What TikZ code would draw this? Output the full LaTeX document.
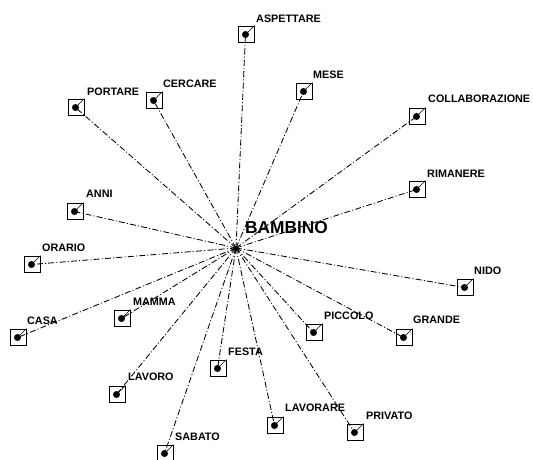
\documentclass[tikz,border=0pt]{standalone}
\usepackage{fontspec}
\setmainfont{Liberation Sans}
\usetikzlibrary{positioning}
\tikzset{
    wordbox/.style={rectangle, draw, line width=0.8pt, minimum size=16pt, inner sep=0pt},
    pin/.style={circle, fill, inner sep=0pt, minimum size=7pt},
    wordlabel/.style={anchor=west, inner sep=0pt, font=\bfseries\fontsize{10.8}{13}\selectfont},
    hublabel/.style={anchor=west, inner sep=0pt, font=\bfseries\fontsize{17.3}{19}\selectfont},
    link/.style={line width=0.85pt, dash pattern=on 6pt off 2.2pt on 1pt off 2.2pt},
    stub/.style={line width=0.5pt}
}

\begin{document}
\begin{tikzpicture}[x=1pt, y=-1pt]
    \useasboundingbox (0,0) rectangle (533,460);
    \coordinate (hub) at (236,248);
    \node (bambino) [hublabel] at (245,228) {BAMBINO};

    % word / box centre / label start
    \foreach \w/\x/\y/\lx/\ly in {
        ASPETTARE/246/34/256/18.5, MESE/304/91/313/75,
        COLLABORAZIONE/417/116/428/99, RIMANERE/417/189/427/174,
        NIDO/465/287/474/271, GRANDE/404/337/413/320,
        PRIVATO/355/432/366/416, PICCOLO/314/332/324/316,
        LAVORARE/275/425/285/408, FESTA/218/368/228/352,
        SABATO/165/453/175/437, LAVORO/117/394/128/377,
        MAMMA/122/318/133/302, CASA/18/337/27/321,
        ORARIO/32/264/42/248, ANNI/75/211/86/194,
        PORTARE/76/107/87/91.5, CERCARE/154/100/163/84}
    {
        \node (\w) [wordbox] at (\x,\y) {};
        \node (\w-pin) [pin] at ([xshift=-0.5pt, yshift=-0.5pt]\w.center) {};
        \node (\w-lbl) [wordlabel] at (\lx,\ly) {\w};
        \draw [stub] (\w-pin.center) -- (\w.north east);
        \draw [link] (hub) -- (\w-pin.center);
    }
\end{tikzpicture}
\end{document}
